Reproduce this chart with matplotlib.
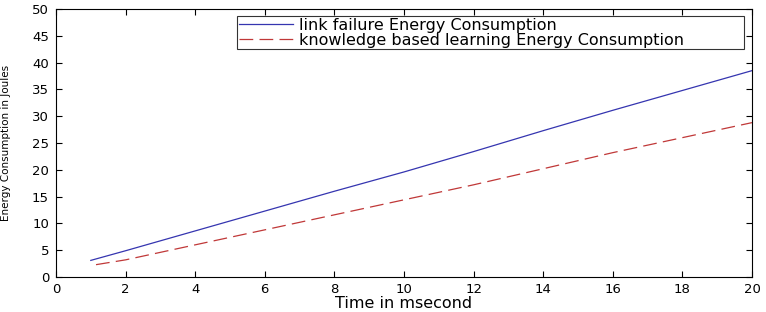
import matplotlib
matplotlib.use("Agg")
import matplotlib.pyplot as plt

x_link = [1, 2, 4, 6, 8, 10, 12, 14, 16, 18, 20]
y_link = [3.1, 4.9, 8.6, 12.3, 16.0, 19.6, 23.4, 27.3, 31.1, 34.8, 38.5]
x_know = [1.15, 2, 4, 6, 8, 10, 12, 14, 16, 18, 20]
y_know = [2.3, 3.2, 6.0, 8.8, 11.6, 14.4, 17.2, 20.2, 23.2, 26.0, 28.8]
labels = ["link failure Energy Consumption",
          "knowledge based learning Energy Consumption"]

plt.rcParams['font.family'] = ['DejaVu Sans']
fig = plt.figure(figsize=(7.66, 3.12), dpi=100)
ax = fig.add_axes([56/766, 1-277/312, (752-56)/766, (277-9)/312])
ax.plot(x_link, y_link, color='#3535b0', lw=0.9, label=labels[0])
ax.plot(x_know, y_know, color='#c03838', lw=0.9, dashes=(11, 5), label=labels[1])
ax.set_xlim(0, 20)
ax.set_ylim(0, 50)
ax.set_xticks(range(0, 21, 2))
ax.set_yticks(range(0, 51, 5))
ax.tick_params(direction='in', top=True, right=True, labelsize=9.5, length=4)
ax.tick_params(axis='x', pad=4)
ax.tick_params(axis='y', pad=5)
ax.set_xlabel("Time in msecond", fontsize=11.5, labelpad=0)
ax.set_ylabel("Energy Consumption in Joules", fontsize=7.5)
ax.yaxis.set_label_coords(-0.065, 0.5)
for s in ax.spines.values():
    s.set_linewidth(0.8)
x0 = (237 - 56) / 696
x1 = (744 - 56) / 696
y1 = (277 - 16) / 268
y0 = (277 - 48) / 268
leg = ax.legend(loc='upper left', bbox_to_anchor=(x0, y0, x1 - x0, y1 - y0),
                mode='expand', fontsize=11.5,
                frameon=True, fancybox=False, edgecolor='black', handlelength=3.4,
                borderpad=0.1, labelspacing=0.0, handletextpad=0.4, borderaxespad=0)
leg.get_frame().set_linewidth(0.8)
fig.savefig("out.png", dpi=100)
